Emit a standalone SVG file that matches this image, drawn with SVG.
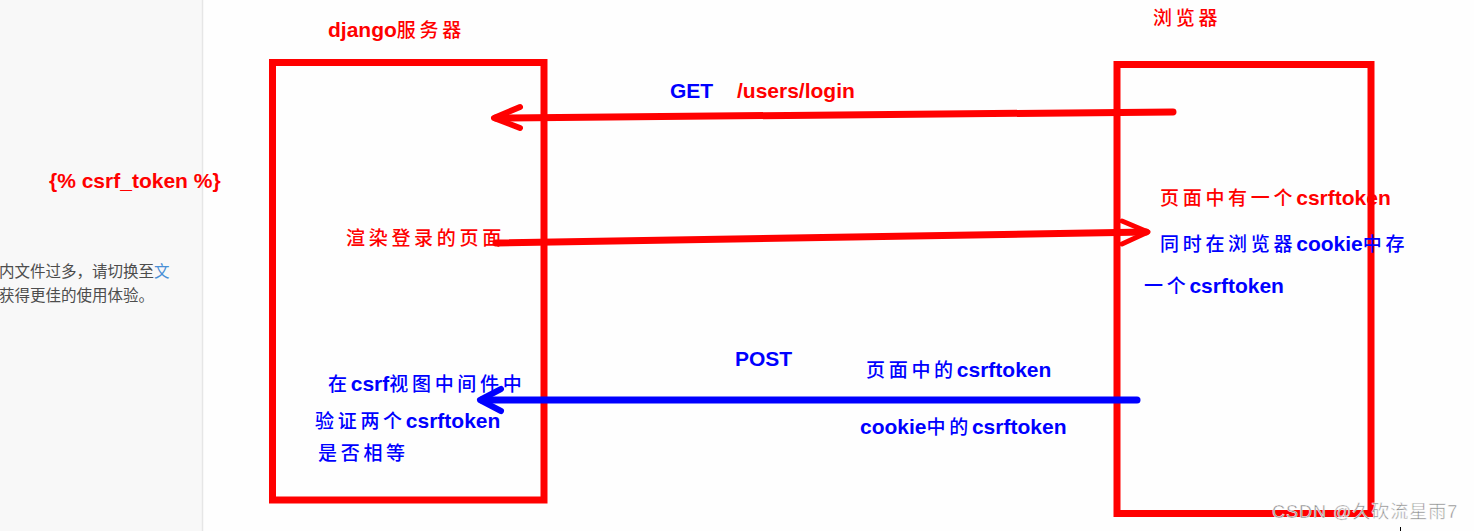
<svg xmlns="http://www.w3.org/2000/svg" width="1474" height="531" viewBox="0 0 1474 531">
<defs>
<style>
.lat{font-family:"Liberation Sans",Arial,"Noto Sans CJK SC",sans-serif;font-weight:bold;font-size:21px}
.cjk{font-family:"Noto Sans CJK SC","Liberation Sans",sans-serif;font-size:19px;font-weight:500;letter-spacing:3.7px}
.red{fill:#ff0000}
.blue{fill:#0000ff}
.box{fill:none;stroke:#ff0000;stroke-width:7}
.side{font-family:"Noto Sans CJK SC","Liberation Sans",sans-serif;font-size:15.5px;fill:#4d4d4d}
</style>
</defs>
<rect x="0" y="0" width="1474" height="531" fill="#fefefe"/>
<g id="sidebar">
<rect x="0" y="0" width="202" height="531" fill="#f8f8f8"/>
<line x1="202.5" y1="0" x2="202.5" y2="531" stroke="#e6e6e6" stroke-width="1.5"/>
<text class="side" x="-1" y="277">内文件过多，请切换至<tspan fill="#4a8fd6">文</tspan></text>
<text class="side" x="-1" y="301">获得更佳的使用体验。</text>
</g>
<g id="server">
<rect class="box" x="272.5" y="62.5" width="271.5" height="437.5"/>
<text class="red" x="328" y="37"><tspan class="lat">django</tspan><tspan class="cjk">服务器</tspan></text>
<text class="lat red" x="49" y="188">{% csrf_token %}</text>
<text class="cjk red" x="346" y="245">渲染登录的页面</text>
<text class="blue" x="328" y="391"><tspan class="cjk">在</tspan><tspan class="lat">csrf</tspan><tspan class="cjk">视图中间件中</tspan></text>
<text class="blue" x="315" y="428"><tspan class="cjk">验证两个</tspan><tspan class="lat">csrftoken</tspan></text>
<text class="cjk blue" x="318" y="460">是否相等</text>
</g>
<g id="browser">
<rect class="box" x="1117" y="64.5" width="254" height="449"/>
<text class="cjk red" x="1153" y="25">浏览器</text>
<text class="red" x="1160" y="205"><tspan class="cjk">页面中有一个</tspan><tspan class="lat">csrftoken</tspan></text>
<text class="blue" x="1160" y="251"><tspan class="cjk">同时在浏览器</tspan><tspan class="lat">cookie</tspan><tspan class="cjk">中存</tspan></text>
<text class="blue" x="1144" y="293"><tspan class="cjk">一个</tspan><tspan class="lat">csrftoken</tspan></text>
</g>
<g id="connectors" fill="none" stroke-linecap="round" stroke-linejoin="round">
<g id="get">
<path d="M1173 112 L496 118" stroke="#ff0000" stroke-width="7"/>
<path d="M520 107 L494 118 L520 128" stroke="#ff0000" stroke-width="6"/>
<text class="lat blue" x="670" y="98" stroke="none">GET</text>
<text class="lat red" x="737" y="98" stroke="none">/users/login</text>
</g>
<g id="render">
<path d="M496 243 L1146 232" stroke="#ff0000" stroke-width="7"/>
<path d="M1122 221 L1148 232 L1122 244" stroke="#ff0000" stroke-width="5"/>
</g>
<g id="post">
<path d="M1137 400 L482 400" stroke="#0000ff" stroke-width="7"/>
<path d="M501 389 L480 400 L501 411" stroke="#0000ff" stroke-width="6"/>
<text class="lat blue" x="735" y="366" stroke="none">POST</text>
<text class="blue" x="866" y="377" stroke="none"><tspan class="cjk">页面中的</tspan><tspan class="lat">csrftoken</tspan></text>
<text class="blue" x="860" y="434" stroke="none"><tspan class="lat">cookie</tspan><tspan class="cjk">中的</tspan><tspan class="lat">csrftoken</tspan></text>
</g>
</g>
<g id="watermark">
<text x="1272" y="518" font-family="Liberation Sans,'Noto Sans CJK SC',sans-serif" font-size="18" letter-spacing="1" fill="#8a8a8a" stroke="#ffffff" stroke-width="0.5">CSDN @久砍流星雨7</text>
<line x1="1400.5" y1="527" x2="1400.5" y2="531" stroke="#000" stroke-width="1"/>
</g>
</svg>
